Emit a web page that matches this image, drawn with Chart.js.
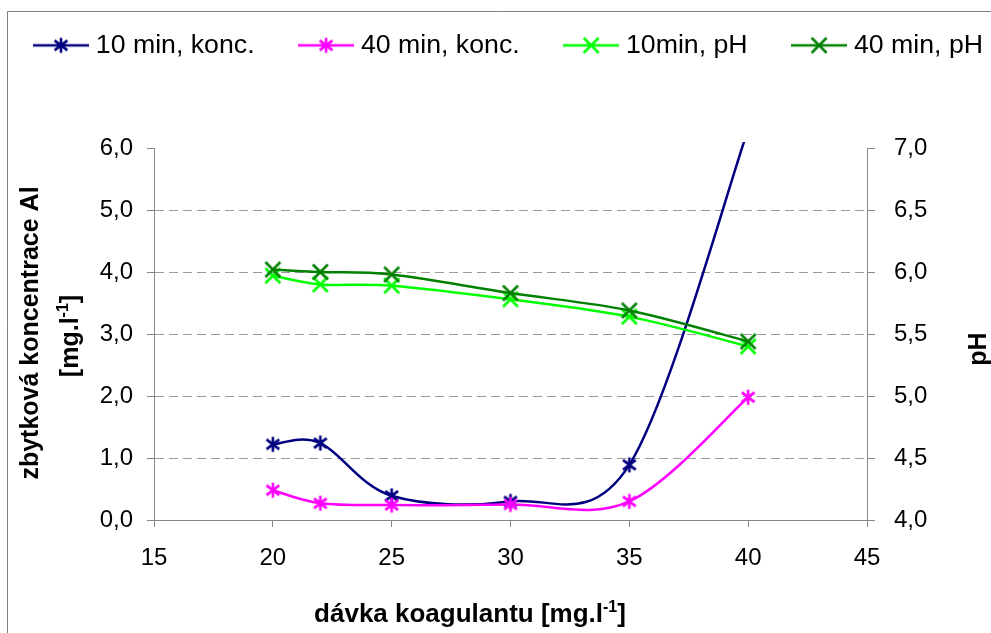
<!DOCTYPE html>
<html>
<head>
<meta charset="utf-8">
<script src="https://cdn.jsdelivr.net/npm/chart.js@4"></script>
<style>
  html, body { margin: 0; padding: 0; background: #fff; }
</style>
</head>
<body>
<canvas id="graf" width="991" height="633"></canvas>
<script>
// Données
const davka = [20, 22, 25, 30, 35, 40];
const konc10 = [1.22, 1.24, 0.39, 0.30, 0.89, 6.3];
const konc40 = [0.48, 0.27, 0.24, 0.25, 0.30, 1.98];
const ph10 = [5.97, 5.90, 5.89, 5.78, 5.64, 5.40];
const ph40 = [6.02, 6.00, 5.98, 5.83, 5.69, 5.44];

const seriesLabels = ['10 min, konc.', '40 min, konc.', '10min, pH', '40 min, pH'];

// Graduations
const xTicks = [15, 20, 25, 30, 35, 40, 45];
const alTicks = [0, 1, 2, 3, 4, 5, 6];
const phTicks = [4, 4.5, 5, 5.5, 6, 6.5, 7];

// Titres des axes (morceaux, true = exposant)
const xTitle = [['dávka koagulantu [mg.l', false], ['-1', true], [']', false]];
const yTitle1 = [['zbytková koncentrace Al', false]];
const yTitle2 = [['[mg.l', false], ['-1', true], [']', false]];
const y2Title = [['pH', false]];

const FONT = '"Liberation Sans", Arial, sans-serif';
const AXIS = '#868686';

const fmt = v => Number(v).toFixed(1).replace('.', ',');
const pts = ys => davka.map((d, i) => ({ x: d, y: ys[i] }));

function strokeMarker(g, kind, cx, cy, r, color) {
	g.strokeStyle = color;
	g.lineWidth = 2.6;
	g.beginPath();
	if (kind === 'star') {
		g.moveTo(cx, cy - r); g.lineTo(cx, cy + r);
		g.moveTo(cx - r * 0.85, cy - r * 0.65); g.lineTo(cx + r * 0.85, cy + r * 0.65);
		g.moveTo(cx - r * 0.85, cy + r * 0.65); g.lineTo(cx + r * 0.85, cy - r * 0.65);
	} else {
		g.moveTo(cx - r, cy - r); g.lineTo(cx + r, cy + r);
		g.moveTo(cx - r, cy + r); g.lineTo(cx + r, cy - r);
	}
	g.stroke();
}

function makeMarker(color, kind) {
	const r = 7.5;
	const s = 2 * r + 5;
	const c = document.createElement('canvas');
	c.width = s; c.height = s;
	strokeMarker(c.getContext('2d'), kind, s / 2, s / 2, r, color);
	return c;
}

// icône de légende : trait + marqueur
function makeLegendIcon(color, kind) {
	const c = document.createElement('canvas');
	c.width = 56; c.height = 22;
	const g = c.getContext('2d');
	g.strokeStyle = color;
	g.lineWidth = 2.5;
	g.beginPath(); g.moveTo(0, 11); g.lineTo(56, 11); g.stroke();
	strokeMarker(g, kind, 28, 11, 7.5, color);
	return c;
}

const colors = ['#000080', '#FF00FF', '#00FF00', '#008000'];
const kinds = ['star', 'star', 'x', 'x'];
const legendIcons = colors.map((c, i) => makeLegendIcon(c, kinds[i]));

function drawRich(ctx, parts, cx, cy, angle, size) {
	const big = 'bold ' + size + 'px ' + FONT;
	const small = 'bold ' + Math.round(size * 0.62) + 'px ' + FONT;
	let total = 0;
	parts.forEach(([t, sup]) => { ctx.font = sup ? small : big; total += ctx.measureText(t).width; });
	ctx.save();
	ctx.translate(cx, cy);
	ctx.rotate(angle);
	ctx.textBaseline = 'alphabetic';
	ctx.fillStyle = '#000';
	const base = size * 0.36;
	let x = -total / 2;
	parts.forEach(([t, sup]) => {
		ctx.font = sup ? small : big;
		ctx.fillText(t, x, sup ? base - size * 0.4 : base);
		x += ctx.measureText(t).width;
	});
	ctx.restore();
}

// fond, cadre et titres des axes
const decor = {
	id: 'decor',
	beforeDraw(chart) {
		const ctx = chart.ctx;
		ctx.save();
		ctx.fillStyle = '#fff';
		ctx.fillRect(0, 0, chart.width, chart.height);
		ctx.strokeStyle = '#7f7f7f';
		ctx.lineWidth = 1;
		ctx.beginPath();
		ctx.moveTo(7.5, chart.height);
		ctx.lineTo(7.5, 11.5);
		ctx.lineTo(chart.width, 11.5);
		ctx.stroke();
		ctx.restore();
	},
	afterDraw(chart) {
		const ctx = chart.ctx;
		drawRich(ctx, xTitle, 470, 613, 0, 26);
		drawRich(ctx, yTitle1, 29, 333, -Math.PI / 2, 25);
		drawRich(ctx, yTitle2, 69, 336, -Math.PI / 2, 25);
		drawRich(ctx, y2Title, 977, 349, -Math.PI / 2, 25);
	}
};

// lissage façon Excel : points de contrôle à 1/6 de (suivant - précédent)
const excelSmooth = {
	id: 'excelSmooth',
	beforeDatasetsDraw(chart) {
		chart.getSortedVisibleDatasetMetas().forEach(meta => {
			const p = meta.data;
			for (let i = 0; i < p.length; i++) {
				const prev = p[Math.max(i - 1, 0)];
				const next = p[Math.min(i + 1, p.length - 1)];
				const dx = (next.x - prev.x) / 6;
				const dy = (next.y - prev.y) / 6;
				p[i].cp1x = p[i].x - dx; p[i].cp1y = p[i].y - dy;
				p[i].cp2x = p[i].x + dx; p[i].cp2y = p[i].y + dy;
			}
			meta.dataset._pointsUpdated = true;
			meta.dataset._path = undefined;
		});
	}
};

// position de la légende comme dans Excel
const legendPlacement = {
	id: 'legendPlacement',
	beforeLayout(chart) {
		const lg = chart.legend;
		if (!lg || lg._patched) return;
		const fit = lg.fit;
		lg.fit = function () {
			const mw = this.maxWidth;
			this.maxWidth = 5000;
			fit.call(this);
			this.maxWidth = mw;
			this.width = mw;
			this.height = 148;
		};
		lg._patched = true;
	},
	afterLayout(chart) {
		const lg = chart.legend;
		const pad = lg.options.labels.padding;
		lg.left = 39.5 - pad;
		lg.right = 5000;
		lg.top = 45 - 13 - pad;
	}
};

function serie(i, ys, axis) {
	return {
		label: seriesLabels[i],
		data: pts(ys),
		yAxisID: axis,
		borderColor: colors[i],
		backgroundColor: colors[i],
		borderWidth: 2.5,
		pointStyle: makeMarker(colors[i], kinds[i]),
		pointRadius: 7,
		tension: 0.35,
		order: 3 - i,
		clip: { left: 12, right: 12, top: 6, bottom: 12 }
	};
}

new Chart(document.getElementById('graf'), {
	type: 'line',
	data: {
		datasets: [
			serie(0, konc10, 'y'),
			serie(1, konc40, 'y'),
			serie(2, ph10, 'y1'),
			serie(3, ph40, 'y1')
		]
	},
	options: {
		responsive: false,
		animation: false,
		layout: { padding: 0 },
		scales: {
			x: {
				type: 'linear', min: 15, max: 45,
				afterFit: s => { s.height = 113; },
				afterBuildTicks: s => { s.ticks = xTicks.map(v => ({ value: v })); },
				ticks: { color: '#000', font: { family: FONT, size: 24 }, padding: 17, maxRotation: 0 },
				grid: { drawOnChartArea: false, tickLength: 7, tickColor: AXIS },
				border: { color: AXIS }
			},
			y: {
				position: 'left', min: 0, max: 6,
				afterFit: s => { s.width = 154; },
				afterBuildTicks: s => { s.ticks = alTicks.map(v => ({ value: v })); },
				ticks: { callback: fmt, color: '#000', font: { family: FONT, size: 24 }, padding: 14 },
				grid: {
					color: c => (c.tick && c.tick.value > 0 && c.tick.value < 6) ? '#9a9a9a' : 'rgba(0,0,0,0)',
					tickColor: AXIS, tickLength: 7
				},
				border: { color: AXIS, dash: [9, 5] }
			},
			y1: {
				position: 'right', min: 4, max: 7,
				afterFit: s => { s.width = 124; },
				afterBuildTicks: s => { s.ticks = phTicks.map(v => ({ value: v })); },
				ticks: { callback: fmt, color: '#000', font: { family: FONT, size: 24 }, padding: 19 },
				grid: { drawOnChartArea: false, tickLength: 8, tickColor: AXIS },
				border: { color: AXIS }
			}
		},
		plugins: {
			tooltip: { enabled: false },
			legend: {
				position: 'top',
				align: 'start',
				labels: {
					usePointStyle: true,
					pointStyleWidth: 43,
					padding: 50,
					color: '#000',
					font: { family: FONT, size: 26.7 },
					generateLabels: chart => chart.data.datasets.map((ds, i) => ({
						text: ds.label,
						pointStyle: legendIcons[i],
						fillStyle: ds.borderColor,
						strokeStyle: ds.borderColor,
						lineWidth: 0,
						hidden: false,
						datasetIndex: i,
						fontColor: '#000'
					}))
				}
			}
		}
	},
	plugins: [decor, excelSmooth, legendPlacement]
});
</script>
</body>
</html>
